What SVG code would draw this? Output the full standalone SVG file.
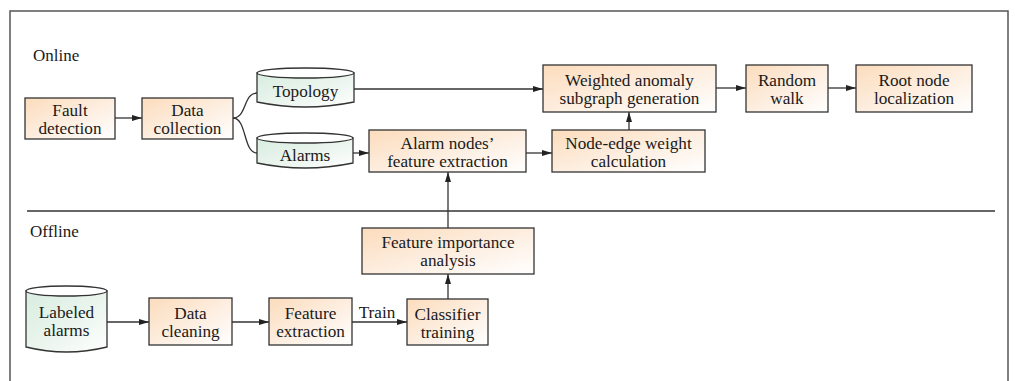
<svg xmlns="http://www.w3.org/2000/svg" width="1015" height="381" viewBox="0 0 1015 381">
<defs>
<linearGradient id="og" x1="0" y1="0" x2="1" y2="1">
<stop offset="0" stop-color="#fcdcbc"/>
<stop offset="0.55" stop-color="#fdefe2"/>
<stop offset="1" stop-color="#ffffff"/>
</linearGradient>
<linearGradient id="gg" x1="0" y1="0" x2="1" y2="1">
<stop offset="0" stop-color="#d8ede0"/>
<stop offset="0.55" stop-color="#ebf5ee"/>
<stop offset="1" stop-color="#ffffff"/>
</linearGradient>
<marker id="ah" viewBox="0 0 10 6" refX="10" refY="3" markerWidth="10" markerHeight="6" markerUnits="userSpaceOnUse" orient="auto">
<path d="M0,0 L10,3 L0,6 Z" fill="#222"/>
</marker>
</defs>
<style>
.box{fill:url(#og);stroke:#333;stroke-width:1.3}
.cyl{fill:url(#gg);stroke:#333;stroke-width:1.3}
.top{fill:#fff;stroke:#333;stroke-width:1.3}
svg text{font-family:'Liberation Serif',serif;font-size:17.2px;fill:#1a1a1a;text-anchor:middle}
svg text.lbl{text-anchor:start;font-size:17px}
.c{fill:none;stroke:#333;stroke-width:1.3}
.a{marker-end:url(#ah)}
</style>
<rect width="1015" height="381" fill="#fff"/>
<path d="M10,381 V11 H1008 V381" fill="none" stroke="#555" stroke-width="1.5"/>
<line x1="27" y1="211" x2="995" y2="211" stroke="#333" stroke-width="1.3"/>
<text class="lbl" x="33" y="61">Online</text>
<text class="lbl" x="30" y="237">Offline</text>

<g id="connectors">
<path class="c a" d="M115,118 H142"/>
<path class="c" d="M233,118 C247,118 243,93 257,93"/>
<path class="c" d="M233,118 C247,118 243,153 257,153"/>
<path class="c a" d="M354,89 H543"/>
<path class="c a" d="M353,153 H369"/>
<path class="c a" d="M526,153 H552"/>
<path class="c a" d="M629,130 V112"/>
<path class="c a" d="M716,88 H746"/>
<path class="c a" d="M828,88 H856"/>
<path class="c a" d="M448,228 V172"/>
<path class="c a" d="M448,299 V274"/>
<path class="c a" d="M107,322 H149"/>
<path class="c a" d="M232,322 H269"/>
<path class="c a" d="M352,322 H407"/>
<text x="377" y="318">Train</text>
</g>

<g id="fault-detection">
<rect class="box" x="25" y="98" width="90" height="41"/>
<text x="70" y="116">Fault</text>
<text x="70" y="134">detection</text>
</g>
<g id="data-collection">
<rect class="box" x="142" y="98" width="91" height="41"/>
<text x="187.5" y="116">Data</text>
<text x="187.5" y="134">collection</text>
</g>
<g id="topology">
<path class="cyl" d="M257,73 V102 Q305,112 354,102 V73 Z"/>
<ellipse class="top" cx="305.5" cy="73" rx="48.5" ry="5"/>
<text x="305.5" y="97">Topology</text>
</g>
<g id="alarms">
<path class="cyl" d="M257,138 V163 Q305,173 353,163 V138 Z"/>
<ellipse class="top" cx="305" cy="138" rx="48" ry="5"/>
<text x="305" y="161">Alarms</text>
</g>
<g id="alarm-nodes-feature-extraction">
<rect class="box" x="369" y="130" width="157" height="42"/>
<text x="447.5" y="148.5">Alarm nodes’</text>
<text x="447.5" y="166.5">feature extraction</text>
</g>
<g id="node-edge-weight">
<rect class="box" x="552" y="130" width="153" height="42"/>
<text x="628.5" y="148.5">Node-edge weight</text>
<text x="628.5" y="166.5">calculation</text>
</g>
<g id="weighted-anomaly">
<rect class="box" x="543" y="65" width="173" height="47"/>
<text x="629.5" y="86">Weighted anomaly</text>
<text x="629.5" y="104">subgraph generation</text>
</g>
<g id="random-walk">
<rect class="box" x="746" y="65" width="82" height="47"/>
<text x="787" y="86">Random</text>
<text x="787" y="104">walk</text>
</g>
<g id="root-node">
<rect class="box" x="856" y="65" width="116" height="47"/>
<text x="914" y="86">Root node</text>
<text x="914" y="104">localization</text>
</g>
<g id="feature-importance">
<rect class="box" x="362" y="228" width="172" height="46"/>
<text x="448" y="247.5">Feature importance</text>
<text x="448" y="265.5">analysis</text>
</g>
<g id="classifier-training">
<rect class="box" x="407" y="299" width="81" height="46"/>
<text x="447.5" y="319.5">Classifier</text>
<text x="447.5" y="337.5">training</text>
</g>
<g id="labeled-alarms">
<path class="cyl" d="M26,291 V347 Q66.5,357 107,347 V291 Z"/>
<ellipse class="top" cx="66.5" cy="291" rx="40.5" ry="5"/>
<text x="66.5" y="318">Labeled</text>
<text x="66.5" y="336">alarms</text>
</g>
<g id="data-cleaning">
<rect class="box" x="149" y="298" width="83" height="47"/>
<text x="190.5" y="319">Data</text>
<text x="190.5" y="337">cleaning</text>
</g>
<g id="feature-extraction">
<rect class="box" x="269" y="298" width="83" height="47"/>
<text x="310.5" y="319">Feature</text>
<text x="310.5" y="337">extraction</text>
</g>
</svg>
